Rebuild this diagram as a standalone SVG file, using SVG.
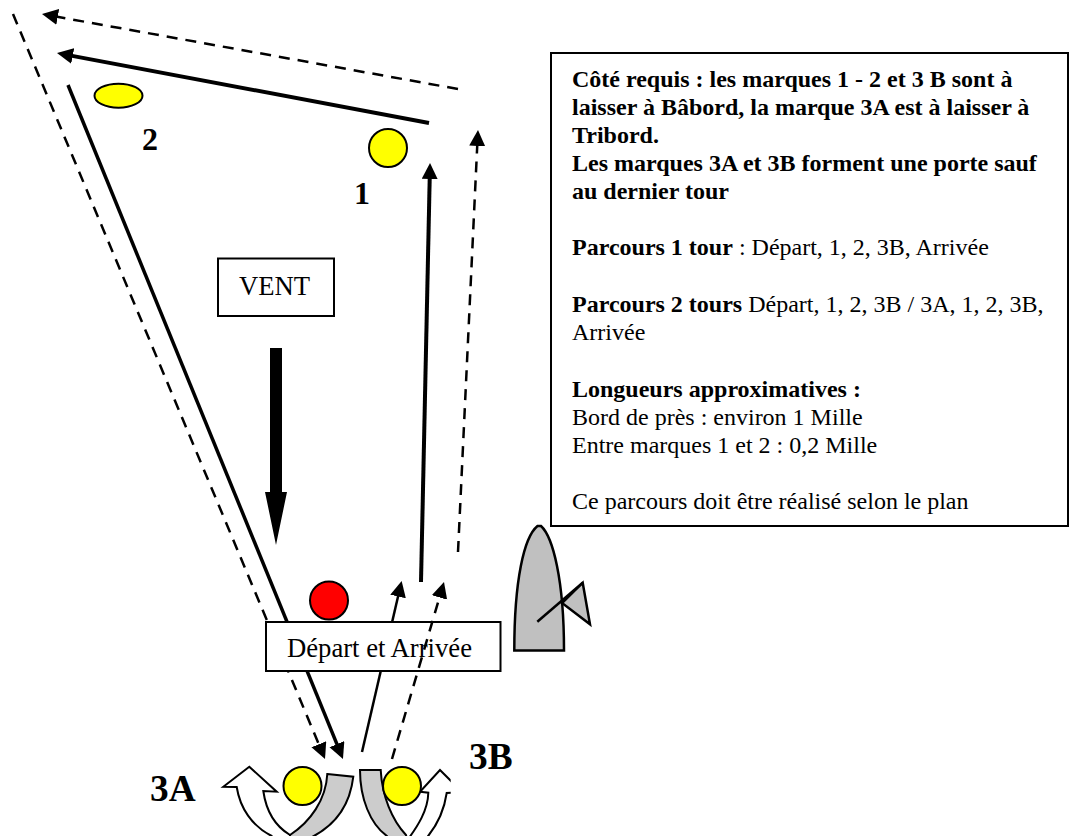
<svg xmlns="http://www.w3.org/2000/svg" width="1073" height="836" viewBox="0 0 1073 836">
<style>
text{font-family:"Liberation Serif","Times New Roman",serif;fill:#000}
.t{font-size:24px}
.l{font-size:26.67px}
.b{font-weight:bold}
.big{font-size:37.33px;font-weight:bold}
.dig{font-size:32px;font-weight:bold}
.box{fill:#fff;stroke:#000;stroke-width:2}
.mark{stroke:#000;stroke-width:2}
.c{fill:none;stroke:#000}
.d{stroke-dasharray:11 8}
.w{fill:#fff;stroke:#000;stroke-width:2}
.g{fill:#ccc;stroke:#000;stroke-width:2}
</style>
<defs>
<marker id="ah" markerUnits="userSpaceOnUse" markerWidth="18" markerHeight="18" refX="10" refY="8" orient="auto"><path d="M0 0L16 8L0 16z" fill="#000"/></marker>
<clipPath id="clip3b"><rect x="340" y="740" width="110.700" height="110"/></clipPath>
</defs>
<rect width="1073" height="836" fill="#fff"/>
<g id="connectors">
<path class="c d" stroke-width="2.500" d="M13 14L322.700 753.500" marker-end="url(#ah)"/>
<path class="c" stroke-width="3.500" d="M68 85L340.700 753.400" marker-end="url(#ah)"/>
<path class="c d" stroke-width="2.500" d="M458 89L47.900 15.100" marker-end="url(#ah)"/>
<path class="c" stroke-width="4" d="M429 123L62.900 54.100" marker-end="url(#ah)"/>
<path class="c" stroke-width="4" d="M421 582L429.900 169" marker-end="url(#ah)"/>
<path class="c d" stroke-width="2.500" d="M458 552L477.700 136" marker-end="url(#ah)"/>
<path class="c" stroke-width="2.500" d="M362 752L400.300 586.800" marker-end="url(#ah)"/>
<path d="M270 348H282V492H287L276 545L265 492H270z" fill="#000"/>
</g>
<g id="mark-2"><ellipse class="mark" cx="118.500" cy="95.700" rx="24" ry="12" fill="#ff0"/><text class="dig" x="142" y="150">2</text></g>
<g id="mark-1"><circle class="mark" cx="388" cy="148" r="19" fill="#ff0"/><text class="dig" x="354" y="204">1</text></g>
<g id="vent"><rect class="box" x="218" y="258.500" width="116" height="57.500"/><text class="l" x="239" y="295">VENT</text></g>
<g id="start-mark"><circle class="mark" cx="329" cy="600.500" r="19" fill="#f00"/></g>
<g id="start"><rect class="box" x="266" y="622" width="234.500" height="49"/><text class="l" x="287" y="657">Départ et Arrivée</text></g>
<g id="connectors-over">
<path class="c d" stroke-width="2.500" d="M392 759L442.300 587.800" marker-end="url(#ah)"/>
</g>
<g id="boat">
<path d="M537.500 526H541C553 537 564 580 564 650.500H514.300C514.300 580 524 537 537.500 526z" fill="#c0c0c0" stroke="#000" stroke-width="2.500"/>
<path d="M562 603L582.700 582.700L590 624.300z" fill="#c0c0c0" stroke="#000" stroke-width="2.500"/>
<path d="M537.300 621.700L582.700 582.700" class="c" stroke-width="2.500"/>
</g>
<g id="mark-3a">
<path class="w" d="M249.300 766.700L276.700 791.700L263.300 791C266 810 275 826 290 835L300 850H280L271.700 836C252 826 240 808 236.700 787L223.300 786.700z"/>
<path class="g" d="M327.300 774L353.300 776.700C350 805 335 826 310 838L290 850V835C310 822 326 800 327.300 774z"/>
<circle class="mark" cx="302.500" cy="786" r="19" fill="#ff0"/>
<text class="big" x="150" y="801">3A</text>
</g>
<g id="mark-3b">
<path class="w" clip-path="url(#clip3b)" d="M440 770L462 792L446.700 793C444 812 436 828 423 842H406C418 826 428 810 428.300 792.700L420 791.700z"/>
<path class="g" d="M360 770H380.700C382 796 392 820 406 835L410 850H390L387 836C370 824 360 798 360 770z"/>
<circle class="mark" cx="402" cy="786" r="19" fill="#ff0"/>
<text class="big" x="469" y="769">3B</text>
</g>
<g id="info">
<rect class="box" x="551" y="53" width="517" height="473"/>
<text class="t b" x="572" y="87">Côté requis : les marques 1 - 2 et 3 B sont à</text>
<text class="t b" x="572" y="115">laisser à Bâbord, la marque 3A est à laisser à</text>
<text class="t b" x="572" y="143">Tribord.</text>
<text class="t b" x="572" y="171">Les marques 3A et 3B forment une porte sauf</text>
<text class="t b" x="572" y="199">au dernier tour</text>
<text class="t" x="572" y="255"><tspan class="b">Parcours 1 tour</tspan> : Départ, 1, 2, 3B, Arrivée</text>
<text class="t" x="572" y="312"><tspan class="b">Parcours 2 tours</tspan> Départ, 1, 2, 3B / 3A, 1, 2, 3B,</text>
<text class="t" x="572" y="340">Arrivée</text>
<text class="t b" x="572" y="397">Longueurs approximatives :</text>
<text class="t" x="572" y="425">Bord de près : environ 1 Mille</text>
<text class="t" x="572" y="453">Entre marques 1 et 2 : 0,2 Mille</text>
<text class="t" x="572" y="509">Ce parcours doit être réalisé selon le plan</text>
</g>
</svg>
